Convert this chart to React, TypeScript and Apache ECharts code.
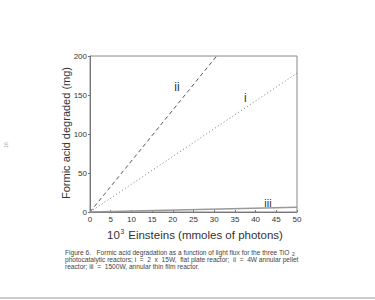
import React, { useEffect, useRef } from "react";
import * as echarts from "echarts";

const xTicks = [0, 50, 5];
const yTicks = [0, 200, 50];
const seriesII = [[0, 0], [30.6, 200]];
const seriesI = [[0, 0], [50, 178]];
const seriesIII = [[0, 0], [50, 6]];
const labelII = { x: 21, y: 160, text: "ii" };
const labelI = { x: 37.5, y: 146, text: "i" };
const labelIII = { x: 43, y: 11, text: "iii" };
const captionLines = [
  "Figure 6.   Formic acid degradation as a function of light flux for the three TiO",
  "photocatalytic reactors; i  =  2  x  15W,  flat plate reactor;  ii  =  4W annular pellet",
  "reactor; iii  =  1500W, annular thin film reactor.",
];

export default function App() {
  const ref = useRef<HTMLDivElement>(null);
  useEffect(() => {
    const chart = echarts.init(ref.current!, null, { renderer: "svg" });
    const font = "Liberation Sans, Arial, sans-serif";
    const mk = (l: { x: number; y: number; text: string }) => ({
      coord: [l.x, l.y],
      value: l.text,
    });
    const capFont = `6.6px ${font}`;
    chart.setOption({
      animation: false,
      backgroundColor: "#fff",
      grid: {
        left: 90,
        right: 78,
        top: 56,
        bottom: 88,
        show: true,
        borderColor: "#888",
        borderWidth: 1,
      },
      xAxis: {
        type: "value",
        min: xTicks[0],
        max: xTicks[1],
        interval: xTicks[2],
        axisLine: { lineStyle: { color: "#777" } },
        axisTick: { inside: true, length: 2, lineStyle: { color: "#777" } },
        splitLine: { show: false },
        axisLabel: { color: "#333", fontSize: 8, fontFamily: font, margin: 3 },
      },
      yAxis: {
        type: "value",
        min: yTicks[0],
        max: yTicks[1],
        interval: yTicks[2],
        axisLine: { show: true, lineStyle: { color: "#777" } },
        axisTick: { show: true, length: 2, lineStyle: { color: "#777" } },
        splitLine: { show: false },
        axisLabel: { color: "#333", fontSize: 8, fontFamily: font, margin: 3 },
      },
      series: [
        {
          type: "line",
          data: seriesII,
          symbol: "none",
          lineStyle: { color: "#555", width: 1, type: [4, 3] },
          markPoint: {
            symbol: "rect",
            symbolSize: 0,
            label: { show: true, formatter: "{c}", color: "#333", fontSize: 12, fontFamily: font },
            data: [mk(labelII)],
          },
        },
        {
          type: "line",
          data: seriesI,
          symbol: "none",
          lineStyle: { color: "#777", width: 1, type: [1, 2.5] },
          markPoint: {
            symbol: "rect",
            symbolSize: 0,
            label: { show: true, formatter: "{c}", color: "#333", fontSize: 12, fontFamily: font },
            data: [mk(labelI)],
          },
        },
        {
          type: "line",
          data: seriesIII,
          symbol: "none",
          lineStyle: { color: "#999", width: 1.5 },
          markPoint: {
            symbol: "rect",
            symbolSize: 0,
            label: { show: true, formatter: "{c}", color: "#333", fontSize: 11, fontFamily: font },
            data: [mk(labelIII)],
          },
        },
      ],
      graphic: [
        {
          type: "text",
          x: 66,
          y: 133,
          rotation: Math.PI / 2,
          style: {
            text: "Formic acid degraded (mg)",
            fill: "#333",
            font: `11px ${font}`,
            textAlign: "center",
            textVerticalAlign: "middle",
          },
        },
        {
          type: "text",
          x: 195,
          y: 235,
          style: {
            text: "{b|10}{s|3}{b| Einsteins (mmoles of photons)}",
            rich: {
              b: { fontSize: 11.5, fontFamily: font, fill: "#333", color: "#333" },
              s: { fontSize: 6.5, fontFamily: font, fill: "#333", color: "#333", verticalAlign: "top", padding: [0, 1, 7, 0.5] },
            },
            textAlign: "center",
            textVerticalAlign: "middle",
          },
        },
        {
          type: "text",
          x: 65,
          y: 252,
          style: { text: captionLines[0], fill: "#444", font: capFont, textVerticalAlign: "middle" },
        },
        {
          type: "text",
          x: 292,
          y: 254,
          style: { text: "2", fill: "#444", font: `5px ${font}`, textVerticalAlign: "middle" },
        },
        {
          type: "text",
          x: 65,
          y: 259,
          style: { text: captionLines[1], fill: "#444", font: capFont, textVerticalAlign: "middle" },
        },
        {
          type: "text",
          x: 65,
          y: 266,
          style: { text: captionLines[2], fill: "#444", font: capFont, textVerticalAlign: "middle" },
        },
        {
          type: "text",
          x: 6,
          y: 145,
          rotation: Math.PI / 2,
          style: { text: "16", fill: "#aaa", font: `5px ${font}`, textAlign: "center", textVerticalAlign: "middle" },
        },
        {
          type: "line",
          shape: { x1: 0, y1: 298, x2: 375, y2: 298 },
          style: { stroke: "#bbb", lineWidth: 1.5 },
        },
      ],
    });
    return () => chart.dispose();
  }, []);
  return (
    <div
      ref={ref}
      style={{ width: 375, height: 300, position: "absolute", left: 0, top: 0 }}
    />
  );
}
